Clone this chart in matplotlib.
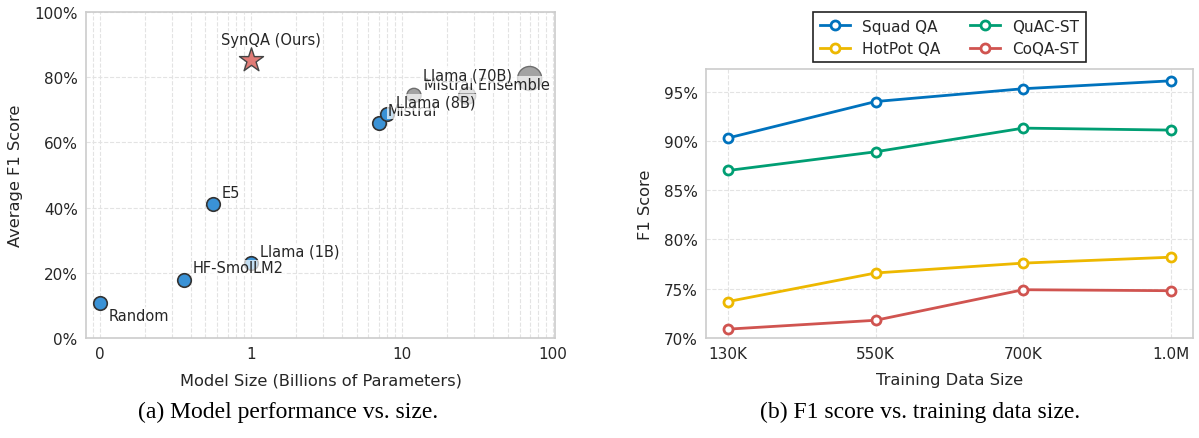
import matplotlib
matplotlib.use("Agg")
import matplotlib.pyplot as plt
from matplotlib.ticker import LogLocator, NullFormatter

# (a) モデルサイズ vs 平均 F1（log 軸。Random は 0.1 に置いて "0" と表示）
model_names = ["Random", "HF-SmolLM2", "E5", "Llama (1B)", "Mistral", "Llama (8B)"]
model_sizes = [0.1, 0.36, 0.56, 1.0, 7.0, 8.0]
model_f1 = [10.7, 17.8, 41.1, 23.0, 66.0, 68.6]

large_names = ["Mistral Ensemble", None, "Llama (70B)"]
large_sizes = [12.0, 27.0, 70.0]
large_f1 = [74.4, 74.3, 79.6]

ours_name = "SynQA (Ours)"
ours_size = 1.0
ours_f1 = 85.2

size_ticks = [0.1, 1, 10, 100]
size_tick_labels = ["0", "1", "10", "100"]
f1_ticks = [0, 20, 40, 60, 80, 100]

# (b) 学習データ量 vs F1
data_sizes = ["130K", "550K", "700K", "1.0M"]
squad = [90.3, 94.0, 95.3, 96.1]
quac = [87.0, 88.9, 91.3, 91.1]
hotpot = [73.7, 76.6, 77.6, 78.2]
coqa = [70.9, 71.8, 74.9, 74.8]
score_ticks = [70, 75, 80, 85, 90, 95]

TEXT = "#262626"
SPINE = "#cccccc"
GRID = dict(color="#e3e3e3", linestyle="--", linewidth=0.8)

plt.rcParams["font.family"] = ["DejaVu Sans"]

fig = plt.figure(figsize=(11.99, 4.39), dpi=100)
W, H = 1199, 439
ax1 = fig.add_axes([86 / W, (H - 339) / H, (555 - 86) / W, (339 - 13) / H])
ax2 = fig.add_axes([706 / W, (H - 339) / H, (1193 - 706) / W, (339 - 70) / H])


def style_axes(ax):
    for sp in ax.spines.values():
        sp.set_color(SPINE); sp.set_linewidth(1.2)
    ax.tick_params(which="both", length=0, labelsize=11, colors=TEXT, pad=6)
    ax.set_axisbelow(True)


# ---- (a)
style_axes(ax1)
ax1.set_xscale("log")
ax1.set_xlim(0.081, 103)
ax1.set_ylim(0, 100)
ax1.set_xticks(size_ticks)
ax1.set_xticklabels(size_tick_labels)
ax1.xaxis.set_minor_locator(LogLocator(base=10, subs=range(2, 10)))
ax1.xaxis.set_minor_formatter(NullFormatter())
ax1.set_yticks(f1_ticks)
ax1.set_yticklabels([f"{v}%" for v in f1_ticks])
ax1.grid(True, axis="x", which="both", **GRID)
ax1.grid(True, axis="y", which="major", **GRID)

ax1.scatter(model_sizes, model_f1, s=95, color="#3a92d6", edgecolor="#333333",
            linewidth=1.2, zorder=3)
ax1.scatter(large_sizes, large_f1, s=[105, 150, 300], color="#a3a3a3",
            edgecolor="#6e6e6e", linewidth=1.0, zorder=3)
ax1.scatter([ours_size], [ours_f1], s=330, marker="*", color="#e07b76",
            edgecolor="#444444", linewidth=1.0, zorder=3)

box = dict(boxstyle="square,pad=0.05", fc="white", ec="none", alpha=0.7)
label_kw = dict(textcoords="offset pixels", ha="left", va="center", fontsize=10.5,
                color=TEXT, bbox=box, zorder=4)
for name, x, y in zip(model_names, model_sizes, model_f1):
    off = (9, -12) if name == "Random" else (9, 12)
    ax1.annotate(name, (x, y), xytext=off, **label_kw)
offsets = [(10, 11), None, (-107, 4)]
for name, x, y, off in zip(large_names, large_sizes, large_f1, offsets):
    if name:
        ax1.annotate(name, (x, y), xytext=off, **label_kw)
ax1.annotate(ours_name, (ours_size, ours_f1), xytext=(20, 21), textcoords="offset pixels",
             ha="center", va="center", fontsize=10.5, color=TEXT, bbox=box, zorder=4)

ax1.set_xlabel("Model Size (Billions of Parameters)", fontsize=11.7, color=TEXT, labelpad=8)
ax1.set_ylabel("Average F1 Score", fontsize=11.7, color=TEXT, labelpad=8)

# ---- (b)
style_axes(ax2)
xs = range(len(data_sizes))
series = [("Squad QA", squad, "#0072bd"), ("HotPot QA", hotpot, "#edb800"),
          ("QuAC-ST", quac, "#009e73"), ("CoQA-ST", coqa, "#d05450")]
for name, vals, c in series:
    ax2.plot(xs, vals, color=c, lw=2, marker="o", ms=6.5, mfc="white", mec=c, mew=2,
             label=name, zorder=3)
ax2.set_xlim(-0.15, 3.15)
ax2.set_ylim(70, 97.3)
ax2.set_xticks(list(xs))
ax2.set_xticklabels(data_sizes)
ax2.set_yticks(score_ticks)
ax2.set_yticklabels([f"{v}%" for v in score_ticks])
ax2.grid(True, **GRID)
ax2.set_xlabel("Training Data Size", fontsize=11.7, color=TEXT, labelpad=8)
ax2.set_ylabel("F1 Score", fontsize=11.7, color=TEXT, labelpad=8)

leg = ax2.legend(ncol=2, loc="lower center", bbox_to_anchor=(0.5, 1.025), fontsize=11,
                 frameon=True, fancybox=False, edgecolor="#222222", framealpha=1,
                 borderpad=0.4, columnspacing=1.9, handlelength=2.0, labelspacing=0.5,
                 borderaxespad=0)
leg.get_frame().set_linewidth(1.2)
for t in leg.get_texts():
    t.set_color(TEXT)

# 図キャプション
cap = dict(family=["Liberation Serif", "DejaVu Serif"], fontsize=17, ha="center",
           va="center", color="black")
fig.text(288 / W, 1 - 412 / H, "(a) Model performance vs. size.", **cap)
fig.text(920 / W, 1 - 412 / H, "(b) F1 score vs. training data size.", **cap)

fig.savefig("out.png", dpi=100)
plt.close(fig)
